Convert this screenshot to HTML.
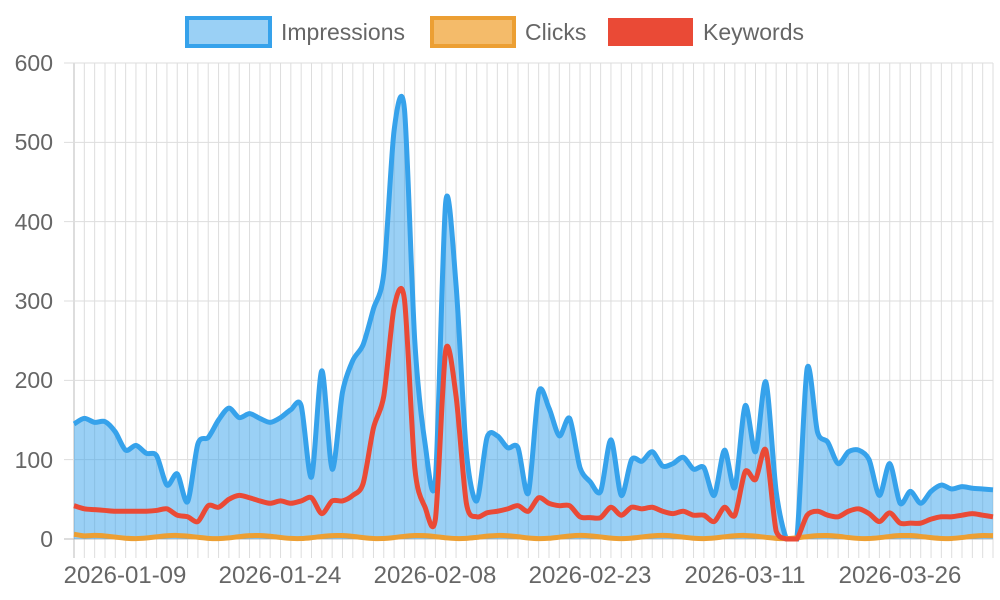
<!DOCTYPE html>
<html><head><meta charset="utf-8"><style>
html,body{margin:0;padding:0;background:#fff;width:1000px;height:600px;overflow:hidden}
svg{display:block;font-family:"Liberation Sans",sans-serif}
</style></head><body>
<svg id="s" width="1000" height="600" xmlns="http://www.w3.org/2000/svg">
<rect x="187" y="18" width="83" height="28" fill="#9ad0f5" stroke="#36a2eb" stroke-width="4"/>
<text x="281" y="40" font-size="23" fill="#666">Impressions</text>
<rect x="432" y="18" width="82" height="28" fill="#f4bb6a" stroke="#ec9f33" stroke-width="4"/>
<text x="525" y="40" font-size="23" fill="#666">Clicks</text>
<rect x="608" y="18" width="85" height="28" fill="#ea4a36"/>
<text x="703" y="40" font-size="23" fill="#666">Keywords</text>
<g id="grid"></g>
<g font-size="23" fill="#666" text-anchor="end">
<text x="53" y="71">600</text><text x="53" y="150">500</text><text x="53" y="230">400</text>
<text x="53" y="309">300</text><text x="53" y="388">200</text><text x="53" y="468">100</text><text x="53" y="547">0</text>
</g>
<g font-size="24" fill="#666" text-anchor="middle">
<text x="125" y="583">2026-01-09</text><text x="280" y="583">2026-01-24</text><text x="435" y="583">2026-02-08</text>
<text x="590" y="583">2026-02-23</text><text x="745" y="583">2026-03-11</text><text x="900" y="583">2026-03-26</text>
</g>
<g id="plot"></g>
</svg>
<script>
const X0=74,X1=993,Y0=539,SC=476/600;
const imp=[145,152,147,148,135,112,118,108,105,68,82,47,120,128,150,165,153,158,152,147,153,163,168,78,212,88,185,225,245,290,335,515,542,250,120,75,425,320,110,48,128,130,115,115,58,185,165,130,152,90,72,60,125,55,100,98,110,92,95,103,88,90,55,112,65,168,110,198,60,0,0,215,135,122,95,110,112,100,55,95,45,60,45,60,68,63,66,64,63,62];
const kw=[42,38,37,36,35,35,35,35,36,38,30,28,22,42,40,50,55,52,48,45,48,45,48,52,32,48,30,45,52,68,120,170,300,310,95,30,238,180,40,28,33,35,38,42,35,52,45,42,42,28,27,27,40,30,40,38,40,35,32,35,30,30,22,40,30,85,75,112,10,0,0,30,35,30,28,35,38,32,22,33,20,20,20,25,28,28,30,32,30,28,23].slice(0,90);
[[26,48],[27,55],[28,70],[29,140],[30,180],[31,292],[32,302],[33,90],[34,40],[35,25],[36,238],[37,180],[38,45]].forEach(([i,v])=>kw[i]=v);
const clk=imp.map((v,i)=>2.5+2*Math.sin(i*0.8));clk[0]=6;
const n=90,dx=(X1-X0)/(n-1);
const px=i=>X0+i*dx, py=v=>Y0-v*SC;
function path(a){let p=a.map((v,i)=>[px(i),py(v)]);let d=`M${p[0][0]},${p[0][1]}`;
for(let i=0;i<p.length-1;i++){const p0=p[Math.max(i-1,0)],p1=p[i],p2=p[i+1],p3=p[Math.min(i+2,p.length-1)];const t=0.14;
let c1=[p1[0]+(p2[0]-p0[0])*t,p1[1]+(p2[1]-p0[1])*t],c2=[p2[0]-(p3[0]-p1[0])*t,p2[1]-(p3[1]-p1[1])*t];
c1[1]=Math.min(c1[1],Y0);c2[1]=Math.min(c2[1],Y0);
d+=`C${c1[0]},${c1[1]} ${c2[0]},${c2[1]} ${p2[0]},${p2[1]}`;}return d;}
let g='';
for(let i=0;i<n;i++){const x=px(i);g+=`<line x1="${x}" y1="63" x2="${x}" y2="558" stroke="${i==0?'#bbb':'#ddd'}" stroke-width="1"/>`;}
for(let k=0;k<=6;k++){const y=py(k*100);g+=`<line x1="64" y1="${y}" x2="${X1}" y2="${y}" stroke="${k==0?'#bbb':'#ddd'}" stroke-width="1"/>`;}
document.getElementById('grid').innerHTML=g;
const di=path(imp);
let p=`<path d="${di} L${X1},${Y0} L${X0},${Y0}Z" fill="rgba(54,162,235,0.5)"/>`;
p+=`<path d="${di}" fill="none" stroke="#36a2eb" stroke-width="5"/>`;
p+=`<path d="${path(clk)}" fill="none" stroke="#ec9f33" stroke-width="5"/>`;
p+=`<path d="${path(kw)}" fill="none" stroke="#ea4a36" stroke-width="5"/>`;
document.getElementById('plot').innerHTML=p;
</script>
</body></html>
